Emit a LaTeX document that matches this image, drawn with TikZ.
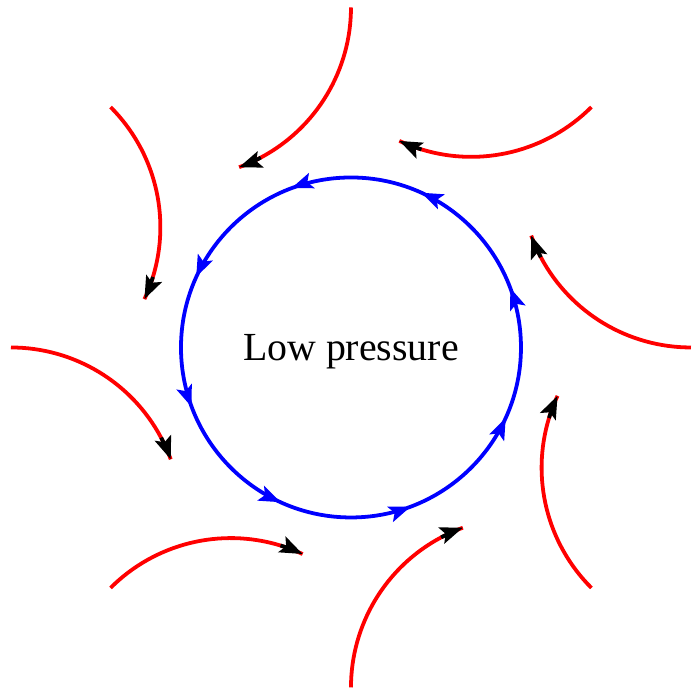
\documentclass[tikz,border=0pt]{standalone}
\usepackage{fontspec}
\setmainfont{Liberation Serif}
\usetikzlibrary{arrows.meta,decorations.markings}

\tikzset{
  isobar/.style={blue,line width=1.9pt,postaction={decorate},
    decoration={markings,
      mark=between positions 0.057 and 1 step 0.125 with {\arrow{Stealth[length=0.38cm,width=0.28cm,inset=0.08cm]}}}},
  wind/.style={red,line width=1.9pt},
  windtip/.style={black,line width=1.9pt,-{Stealth[length=0.4cm,width=0.3cm,inset=0.08cm]}}
}

\begin{document}
\begin{tikzpicture}
  \useasboundingbox (-6.194,-6.079) rectangle (6.018,6.132);

  \node (low) [text depth=0pt,font=\fontsize{20}{24}\selectfont] at (0,0) {Low pressure};

  % counterclockwise flow round the low
  \draw[isobar] (low.center) circle[radius=3];

  % inflowing winds
  \foreach \p in {0,45,...,315}{%
      \draw[wind] (90+\p:6) arc[start angle=\p,end angle=\p-62,radius=3] coordinate (t\p)
        arc[start angle=\p-62,end angle=\p-70,radius=3];
      \draw[windtip] (t\p) arc[start angle=\p-62,end angle=\p-70,radius=3];
    }
\end{tikzpicture}
\end{document}
